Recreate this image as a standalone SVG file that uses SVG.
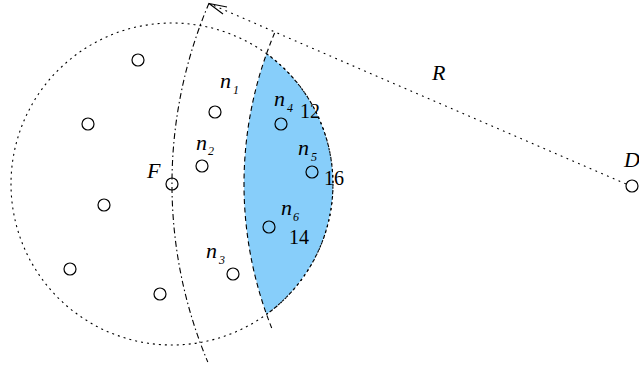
<svg xmlns="http://www.w3.org/2000/svg" width="639" height="371" viewBox="0 0 639 371">
<style>
.nd{fill:none;stroke:#000;stroke-width:1.2}
.lbl{font-family:"Liberation Serif",serif;font-size:20px;fill:#000}
.it{font-style:italic;font-size:22px}
.sub{font-family:"Liberation Serif",serif;font-style:italic;font-size:12px;fill:#000}
.ln{fill:none;stroke:#000;stroke-width:1.1}
</style>
<rect width="639" height="371" fill="#fff"/>
<g id="region">
<path d="M 266.5,53.7 A 161 161 0 0 1 266.5,314.3 A 388 388 0 0 1 266.5,53.7 Z" fill="#87cefa"/>
</g>
<g id="connectors">
<circle cx="172" cy="184" r="161" class="ln" stroke-dasharray="2 4"/>
<path d="M 266.5,53.7 A 161 161 0 0 1 266.5,314.3" class="ln" stroke-dasharray="2.5 3"/>
<path d="M 209.1,3 A 460 460 0 0 0 207.8,362" class="ln" stroke-dasharray="6 3 1.5 3"/>
<path d="M 274.6,33 A 388 388 0 0 0 271.7,328" class="ln" stroke-dasharray="5 3.5"/>
<line x1="626" y1="184" x2="209" y2="3.5" class="ln" stroke-dasharray="1.8 4.5"/>
<polyline points="227,7 209,3.5 223,14" class="ln"/>
</g>
<g id="node-a"><circle cx="138" cy="60" r="6" class="nd"/></g>
<g id="node-b"><circle cx="88" cy="124" r="6" class="nd"/></g>
<g id="node-c"><circle cx="104" cy="205" r="6" class="nd"/></g>
<g id="node-d"><circle cx="70" cy="269" r="6" class="nd"/></g>
<g id="node-e"><circle cx="160" cy="294" r="6" class="nd"/></g>
<g id="node-F"><circle cx="172" cy="184" r="6" class="nd"/><text x="147" y="178" class="lbl it">F</text></g>
<g id="node-n1"><circle cx="215" cy="112" r="6" class="nd"/><text x="220" y="88" class="lbl it">n</text><text x="233" y="94" class="sub">1</text></g>
<g id="node-n2"><circle cx="202" cy="166" r="6" class="nd"/><text x="196" y="150" class="lbl it">n</text><text x="208" y="155" class="sub">2</text></g>
<g id="node-n3"><circle cx="233" cy="274" r="6" class="nd"/><text x="206" y="258" class="lbl it">n</text><text x="219" y="264" class="sub">3</text></g>
<g id="node-n4"><circle cx="281" cy="124" r="6" class="nd"/><text x="274" y="106" class="lbl it">n</text><text x="287" y="112" class="sub">4</text><text x="300" y="118" class="lbl">12</text></g>
<g id="node-n5"><circle cx="312" cy="172" r="6" class="nd"/><text x="298" y="155" class="lbl it">n</text><text x="311" y="161" class="sub">5</text><text x="324" y="185" class="lbl">16</text></g>
<g id="node-n6"><circle cx="269" cy="227" r="6" class="nd"/><text x="281" y="215" class="lbl it">n</text><text x="293" y="221" class="sub">6</text><text x="289" y="244" class="lbl">14</text></g>
<g id="node-D"><circle cx="632" cy="186" r="6" class="nd"/><text x="624" y="167" class="lbl it">D</text></g>
<g id="label-R"><text x="432" y="80" class="lbl it">R</text></g>
</svg>
